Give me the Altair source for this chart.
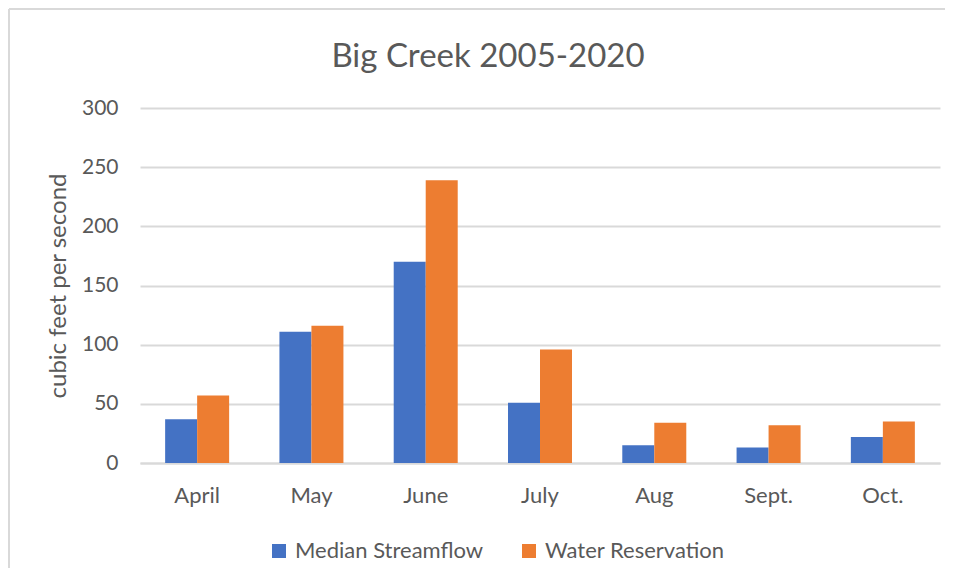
import altair as alt
import pandas as pd

months = ["April", "May", "June", "July", "Aug", "Sept.", "Oct."]
series = ["Median Streamflow", "Water Reservation"]
median_streamflow = [37, 111, 170, 51, 15, 13, 22]
water_reservation = [57, 116, 239, 96, 34, 32, 35]
y_ticks = [0, 50, 100, 150, 200, 250, 300]
colors = ["#4472C4", "#ED7D31"]
title_text = "Big Creek 2005-2020"

rows = []
for m, a, b in zip(months, median_streamflow, water_reservation):
    rows.append({"month": m, "series": series[0], "value": a})
    rows.append({"month": m, "series": series[1], "value": b})
df = pd.DataFrame(rows)

FONT = "Lato"
TXT = "#595959"
GRID = "#D9D9D9"

bars = alt.Chart(df).mark_bar().encode(
    x=alt.X("month:N", sort=months, title=None,
            scale=alt.Scale(paddingInner=0.44, paddingOuter=0.22),
            axis=alt.Axis(labelAngle=0, labelFont=FONT, labelFontSize=22,
                          labelColor=TXT, labelPadding=22, ticks=False,
                          domain=True, domainColor=GRID, domainWidth=2,
                          grid=False)),
    xOffset=alt.XOffset("series:N", sort=series,
                        scale=alt.Scale(paddingInner=0, paddingOuter=0)),
    y=alt.Y("value:Q", title="cubic feet per second",
            scale=alt.Scale(domain=[0, 300], nice=False),
            axis=alt.Axis(values=y_ticks, labelFont=FONT, labelFontSize=21,
                          labelColor=TXT, labelPadding=22, ticks=False,
                          domain=False, grid=True, gridColor=GRID, gridWidth=2,
                          titleFont=FONT, titleFontSize=24, titleColor=TXT,
                          titleFontWeight="normal", titlePadding=11)),
    color=alt.Color("series:N", sort=series,
                    scale=alt.Scale(domain=series, range=colors),
                    legend=alt.Legend(title=None, orient="none",
                                      legendX=128, legendY=432, padding=0,
                                      direction="horizontal",
                                      symbolType="square", symbolSize=196,
                                      symbolStrokeWidth=0,
                                      labelFont=FONT, labelFontSize=22,
                                      labelColor=TXT, labelOffset=5,
                                      labelLimit=400,
                                      columnPadding=34)),
)

frame_data = alt.Data(values=[{"k": 1}])
left_line = alt.Chart(frame_data).mark_rule(color=GRID, strokeWidth=2).encode(
    x=alt.value(-131), y=alt.value(-99), y2=alt.value(460))
top_line = alt.Chart(frame_data).mark_rule(color=GRID, strokeWidth=2).encode(
    x=alt.value(-131), x2=alt.value(805), y=alt.value(-99))
title = alt.Chart(frame_data).mark_text(
    font=FONT, fontSize=33, color=TXT, align="center", baseline="alphabetic"
).encode(x=alt.value(348), y=alt.value(-41), text=alt.value(title_text))

chart = alt.layer(left_line, top_line, title, bars).properties(
    width=800, height=355, padding=0
).configure_view(stroke=None)

chart.save("out.html", embed_options={"renderer": "svg", "actions": False})
